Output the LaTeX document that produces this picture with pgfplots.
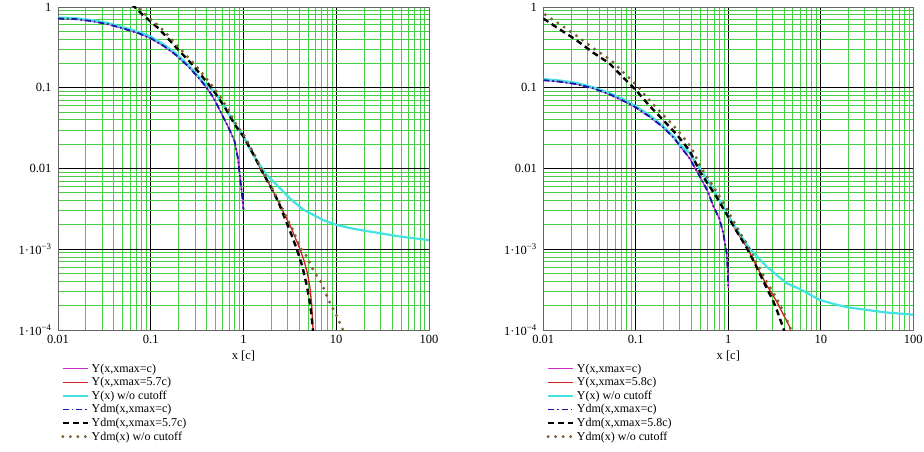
\documentclass[border=0pt]{standalone}
\usepackage{fontspec}
\setmainfont{Liberation Serif}
\usepackage{pgfplots}
\pgfplotsset{compat=1.18}

\definecolor{gridgreen}{RGB}{70,205,70}
\definecolor{magC}{RGB}{205,45,205}
\definecolor{redC}{RGB}{210,30,30}
\definecolor{cyanC}{RGB}{70,225,225}
\definecolor{blueC}{RGB}{20,20,170}
\definecolor{brownC}{RGB}{125,95,50}

\tikzset{
  cmag/.style={magC, line width=1.3pt},
  cred/.style={redC, line width=1.3pt},
  ccyan/.style={cyanC, line width=2.2pt},
  cblue/.style={blueC, line width=1.8pt, dash pattern=on 6pt off 3pt on 1.5pt off 3pt},
  cblack/.style={black, line width=2.4pt, dash pattern=on 6pt off 4pt},
  cbrown/.style={brownC, line width=3.3pt, line cap=round, dash pattern=on 0pt off 7.5pt},
}

\pgfplotsset{
  every axis/.append style={
    scale only axis,
    height=323pt,
    xmin=0.01, xmax=100, ymin=1e-4, ymax=1,
    xtick={0.01,0.1,1,10,100}, xticklabels={0.01,0.1,1,10,100},
    ytick={1e-4,1e-3,0.01,0.1,1},
    yticklabels={1·10\textsuperscript{−4},1·10\textsuperscript{−3},0.01,0.1,1},
    grid=both,
    minor grid style={gridgreen, line width=0.95pt},
    major grid style={black, line width=0.9pt},
    axis line style={draw=black!60, line width=0.9pt},
    major tick length=0pt, minor tick length=0pt,
    tick label style={font=\fontsize{12.5}{14}\selectfont},
    x tick label style={yshift=-1.5pt},
    y tick label style={xshift=-3pt},
    label style={font=\fontsize{12.5}{14}\selectfont},
    xlabel={x [c]},
    legend style={at={(0,-0.092)}, anchor=north west, draw=none, fill=none,
      font=\fontsize{12}{13.5}\selectfont, row sep=-0.3pt},
    legend cell align=left,
    legend image post style={xscale=1.47},
  },
}

\begin{document}
\begin{tikzpicture}
\useasboundingbox (0pt,0pt) rectangle (924pt,451pt);

% left panel
\begin{loglogaxis}[width=371pt, at={(58pt,121pt)}, anchor=south west]
\addplot[cmag] coordinates {
 (0.01,0.72) (0.015,0.71) (0.023,0.67) (0.035,0.61) (0.0524,0.535) (0.075,0.47)
 (0.1,0.41) (0.14,0.325) (0.181,0.262) (0.25,0.187) (0.324,0.135) (0.38,0.108)
 (0.45,0.083) (0.5,0.067) (0.6,0.044) (0.7,0.031) (0.8,0.022) (0.87,0.0135)
 (0.93,0.0068) (0.97,0.0045) (1.0,0.0031)
};
\addlegendentry{Y(x,xmax=c)}
\addplot[cred] coordinates {
 (1.0,0.025) (1.3,0.0145) (1.51,0.0102) (2.0,0.0057) (2.37,0.0039) (2.69,0.0029)
 (3.3,0.0018) (4.07,0.001) (4.5,0.00072) (4.9,0.0005) (5.2,0.00034)
 (5.43,0.00021) (5.6,0.00011) (5.65,0.00008)
};
\addlegendentry{Y(x,xmax=5.7c)}
\addplot[ccyan] coordinates {
 (0.01,0.74) (0.015,0.73) (0.023,0.69) (0.035,0.63) (0.0524,0.555) (0.075,0.49)
 (0.1,0.43) (0.14,0.34) (0.181,0.274) (0.25,0.195) (0.324,0.14) (0.38,0.113)
 (0.45,0.097) (0.5,0.085) (0.626,0.058) (0.8,0.036) (1.0,0.025) (1.2,0.0165)
 (1.44,0.0118) (1.8,0.0082) (2.37,0.006) (3.2,0.0042) (4.41,0.0031) (5.9,0.0026)
 (7.2,0.0023) (10.1,0.002) (15,0.0018) (20,0.0017) (29.6,0.00158) (50,0.00143)
 (100,0.0013)
};
\addlegendentry{Y(x) w/o cutoff}
\addplot[cblue] coordinates {
 (0.01,0.72) (0.015,0.71) (0.023,0.67) (0.035,0.61) (0.0524,0.535) (0.075,0.47)
 (0.1,0.41) (0.14,0.325) (0.181,0.262) (0.25,0.187) (0.324,0.135) (0.38,0.108)
 (0.45,0.083) (0.5,0.067) (0.6,0.044) (0.7,0.031) (0.8,0.022) (0.87,0.0135)
 (0.93,0.0068) (0.97,0.0045) (1.0,0.0031)
};
\addlegendentry{Ydm(x,xmax=c)}
\addplot[cblack] coordinates {
 (0.062,1.08) (0.067,1.0) (0.08,0.82) (0.1,0.66) (0.12,0.55) (0.15,0.42)
 (0.181,0.33) (0.22,0.26) (0.274,0.2) (0.33,0.155) (0.414,0.113) (0.5,0.085)
 (0.626,0.058) (0.81,0.0346) (1.0,0.0248) (1.3,0.0145) (1.51,0.0102) (2.0,0.0057)
 (2.37,0.0039) (2.69,0.0027) (3.3,0.0015) (3.76,0.001) (4.3,0.00062)
 (4.8,0.00036) (5.2,0.00022) (5.45,0.00014) (5.6,0.0001) (5.65,0.00008)
};
\addlegendentry{Ydm(x,xmax=5.7c)}
\addplot[cbrown] coordinates {
 (0.066,1.08) (0.072,1.0) (0.086,0.82) (0.107,0.66) (0.129,0.55) (0.161,0.42)
 (0.194,0.33) (0.235,0.26) (0.292,0.2) (0.351,0.155) (0.44,0.113) (0.53,0.085)
 (0.66,0.058) (0.84,0.0346) (1.03,0.025) (1.33,0.0145) (1.54,0.0102) (2.03,0.0057)
 (2.41,0.0039) (2.73,0.0029) (3.35,0.0018) (4.1,0.00105) (4.8,0.00082)
 (5.66,0.00055) (6.97,0.00038) (8.2,0.00024) (10.1,0.00015) (11.4,0.00011)
 (11.8,0.0001)
};
\addlegendentry{Ydm(x) w/o cutoff}
\end{loglogaxis}

% right panel
\begin{loglogaxis}[width=370pt, at={(543.3pt,121pt)}, anchor=south west]
\addplot[cmag] coordinates {
 (0.01,0.124) (0.015,0.119) (0.0227,0.111) (0.035,0.098) (0.052,0.083) (0.075,0.068)
 (0.1,0.057) (0.14,0.044) (0.197,0.0325) (0.26,0.0237) (0.3,0.019) (0.38,0.0135)
 (0.494,0.0079) (0.6,0.0052) (0.69,0.0034) (0.8,0.0024) (0.88,0.0016)
 (0.96,0.0009) (0.99,0.0005) (1.0,0.00033)
};
\addlegendentry{Y(x,xmax=c)}
\addplot[cred] coordinates {
 (1.0,0.0025) (1.3,0.0015) (1.58,0.00107) (2.0,0.00063) (2.6,0.00036)
 (3.3,0.00023) (4.0,0.00015) (4.6,0.00011) (4.8,0.00009)
};
\addlegendentry{Y(x,xmax=5.8c)}
\addplot[ccyan] coordinates {
 (0.01,0.128) (0.015,0.123) (0.0227,0.115) (0.035,0.101) (0.052,0.086) (0.075,0.071)
 (0.1,0.059) (0.14,0.046) (0.197,0.0335) (0.26,0.0245) (0.3,0.0195) (0.383,0.0155)
 (0.45,0.0115) (0.533,0.0088) (0.75,0.0047) (1.0,0.0026) (1.3,0.0016)
 (1.72,0.001) (2.6,0.00061) (4.26,0.00038) (5.96,0.00032) (9.8,0.000235)
 (15,0.000205) (20,0.00019) (31,0.000178) (50,0.000165) (100,0.000155)
};
\addlegendentry{Y(x) w/o cutoff}
\addplot[cblue] coordinates {
 (0.01,0.124) (0.015,0.119) (0.0227,0.111) (0.035,0.098) (0.052,0.083) (0.075,0.068)
 (0.1,0.057) (0.14,0.044) (0.197,0.0325) (0.26,0.0237) (0.3,0.019) (0.38,0.0135)
 (0.494,0.0079) (0.6,0.0052) (0.69,0.0034) (0.8,0.0024) (0.88,0.0016)
 (0.96,0.0009) (0.99,0.0005) (1.0,0.00033)
};
\addlegendentry{Ydm(x,xmax=c)}
\addplot[cblack] coordinates {
 (0.01,0.72) (0.015,0.53) (0.0227,0.39) (0.035,0.27) (0.052,0.2) (0.075,0.13)
 (0.1,0.094) (0.14,0.06) (0.197,0.04) (0.28,0.026) (0.383,0.0165) (0.494,0.0091)
 (0.75,0.0044) (1.0,0.0025) (1.3,0.0015) (1.58,0.00105) (2.0,0.00062)
 (2.6,0.00033) (3.0,0.00024) (3.33,0.00018) (3.78,0.00012) (4.0,0.0001)
 (4.1,0.00009)
};
\addlegendentry{Ydm(x,xmax=5.8c)}
\addplot[cbrown] coordinates {
 (0.0105,0.8) (0.0155,0.6) (0.0235,0.43) (0.036,0.3) (0.054,0.22) (0.078,0.145)
 (0.104,0.105) (0.145,0.067) (0.204,0.0445) (0.29,0.029) (0.396,0.0183) (0.51,0.0101)
 (0.77,0.0049) (1.02,0.0028) (1.32,0.00165) (1.6,0.00115) (2.02,0.00068)
 (2.62,0.00039) (3.32,0.00025) (4.02,0.00016) (4.7,0.000105) (4.8,0.0001)
};
\addlegendentry{Ydm(x) w/o cutoff}
\end{loglogaxis}
\end{tikzpicture}
\end{document}
